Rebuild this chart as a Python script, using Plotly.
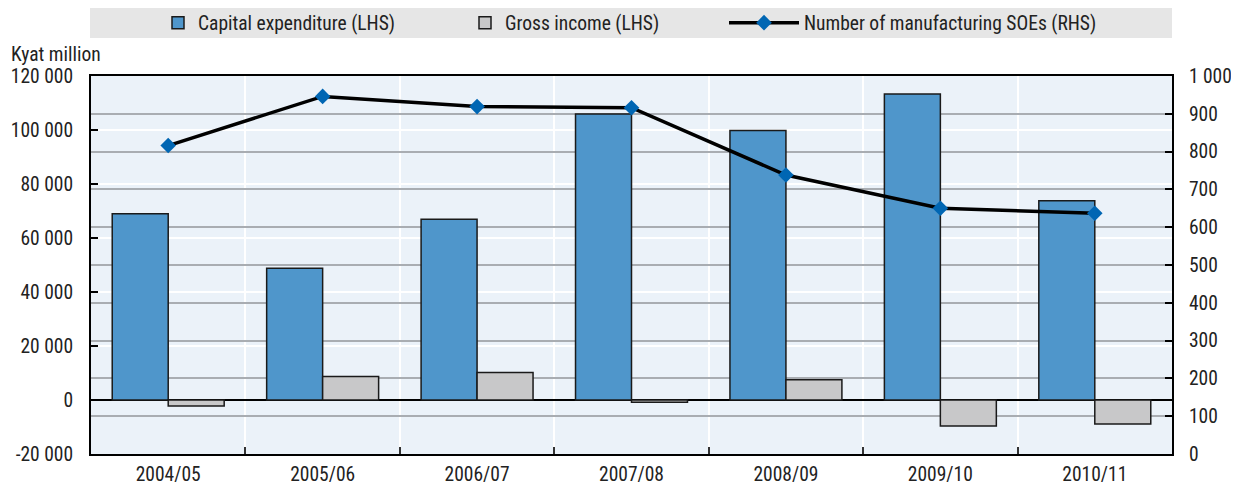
import plotly.graph_objects as go

years = ["2004/05", "2005/06", "2006/07", "2007/08", "2008/09", "2009/10", "2010/11"]
capex = [69000, 48800, 66900, 105900, 99800, 113300, 73800]
gross_income = [-2200, 8700, 10200, -800, 7500, -9600, -8900]
n_soes = [816, 946, 919, 916, 738, 650, 637]

left_ticks = [-20000, 0, 20000, 40000, 60000, 80000, 100000, 120000]
left_ticktext = ["-20 000", "0", "20 000", "40 000", "60 000", "80 000", "100 000", "120 000"]
right_ticks = [0, 100, 200, 300, 400, 500, 600, 700, 800, 900, 1000]
right_ticktext = ["0", "100", "200", "300", "400", "500", "600", "700", "800", "900", "1 000"]

FONT = "Liberation Sans Narrow, Roboto Condensed, Arial Narrow, sans-serif"
FS = 19.5

# page is rendered with an 8px body margin: size the figure to fit the window
OFF = 8
WIN_W, WIN_H = 1239, 487
W, H = WIN_W - OFF, WIN_H - OFF
# plot area in window pixels
L, R, T, B = 91, 1172, 76, 454
PW, PH = R - L, B - T


def px_x(px):
    return (px - L) / PW


def px_y(py):
    return (B - py) / PH


fig = go.Figure()
fig.add_trace(go.Bar(
    x=years, y=capex, name="Capital expenditure (LHS)",
    marker=dict(color="#4F96CB", line=dict(color="#1A1A1A", width=1.5)),
    yaxis="y", legend="legend",
))
fig.add_trace(go.Bar(
    x=years, y=gross_income, name="Gross income (LHS)",
    marker=dict(color="#C8C8C9", line=dict(color="#1A1A1A", width=1.5)),
    yaxis="y", legend="legend2",
))
fig.add_trace(go.Scatter(
    x=years, y=n_soes, name="Number of manufacturing SOEs (RHS)",
    mode="lines+markers",
    line=dict(color="#000000", width=3.5),
    marker=dict(symbol="diamond", size=12, color="#0066B3"),
    yaxis="y2", legend="legend3",
))

leg_common = dict(
    orientation="h", xanchor="left", yanchor="middle", y=px_y(23),
    bgcolor="rgba(0,0,0,0)", font=dict(size=FS, family=FONT, color="#222222"),
)

fig.update_layout(
    width=W, height=H,
    margin=dict(l=L - OFF, r=W - (R - OFF), t=T - OFF, b=H - (B - OFF), autoexpand=False),
    paper_bgcolor="white",
    plot_bgcolor="#EBF2F9",
    font=dict(family=FONT, size=FS, color="#222222"),
    barmode="group", bargap=0.275, bargroupgap=0,
    showlegend=True,
    legend=dict(x=px_x(158), **leg_common),
    legend2=dict(x=px_x(465), **leg_common),
    legend3=dict(x=px_x(724), itemwidth=70, **leg_common),
    xaxis=dict(
        type="category", tickson="boundaries", automargin=False,
        showgrid=True, gridcolor="white", gridwidth=1.5,
        ticks="inside", ticklen=7, tickcolor="#333333", tickwidth=1.5,
        showline=True, linecolor="black", linewidth=2, mirror=True,
        tickfont=dict(size=FS), ticklabelstandoff=2,
    ),
    yaxis=dict(
        range=[-20000, 120000], tickvals=left_ticks, ticktext=left_ticktext,
        automargin=False,
        showgrid=True, gridcolor="white", gridwidth=2,
        zeroline=True, zerolinecolor="black", zerolinewidth=2,
        ticks="inside", ticklen=7, tickcolor="black", tickwidth=1.5,
        showline=True, linecolor="black", linewidth=2, mirror=True,
        tickfont=dict(size=FS), ticklabelstandoff=12,
    ),
    yaxis2=dict(
        range=[0, 1000], tickvals=right_ticks, ticktext=right_ticktext,
        overlaying="y", side="right", automargin=False,
        showgrid=True, gridcolor="#A9ADB2", gridwidth=1.5,
        zeroline=False,
        ticks="inside", ticklen=7, tickcolor="black", tickwidth=1.5,
        showline=True, linecolor="black", linewidth=2,
        tickfont=dict(size=FS), ticklabelstandoff=11,
    ),
    shapes=[dict(
        type="rect", xref="paper", yref="paper", layer="below",
        x0=px_x(90), x1=px_x(1172), y0=px_y(38), y1=px_y(8),
        fillcolor="#E6E6E6", line=dict(width=0),
    )],
    annotations=[dict(
        text="Kyat million", xref="paper", yref="paper",
        x=px_x(9), y=px_y(54), xanchor="left", yanchor="middle",
        showarrow=False, font=dict(size=FS, family=FONT, color="#222222"),
    )],
)

fig.write_html("out.html")
